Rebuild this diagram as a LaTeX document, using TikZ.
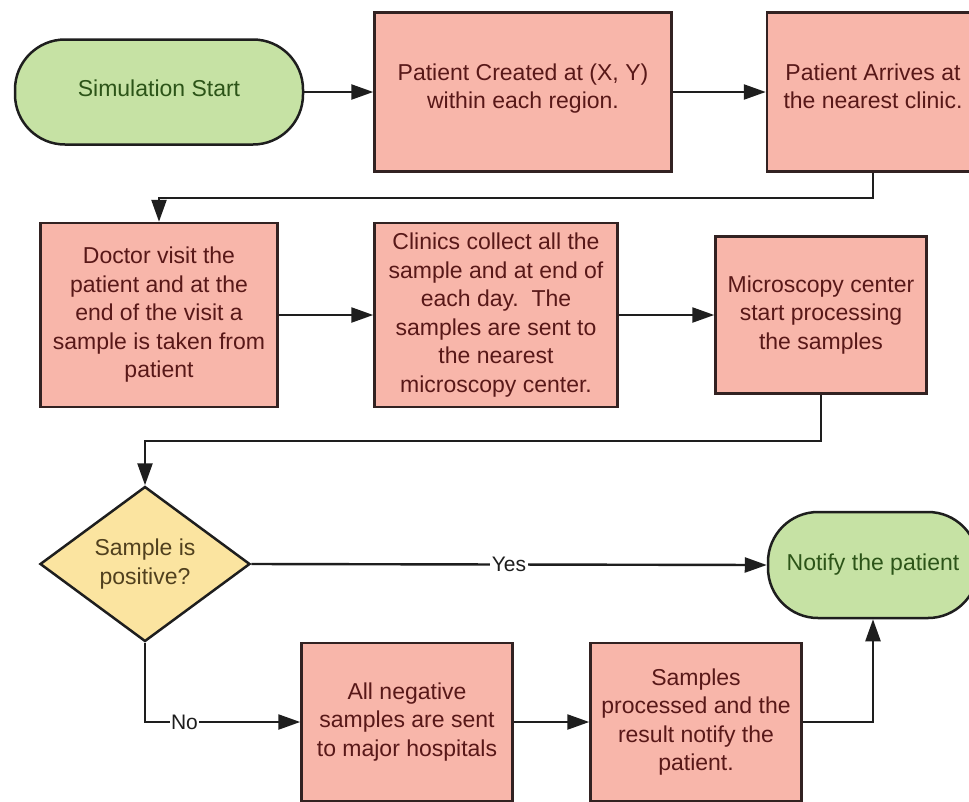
\documentclass[tikz,border=0pt]{standalone}
\usepackage{fontspec}
\setmainfont{Liberation Sans}
\usetikzlibrary{shapes.geometric,arrows.meta}
\definecolor{pinkfill}{RGB}{248,182,170}
\definecolor{greenfill}{RGB}{198,226,164}
\definecolor{yellowfill}{RGB}{251,228,160}
\definecolor{pinktext}{RGB}{88,24,24}
\definecolor{greentext}{RGB}{44,84,24}
\definecolor{yellowtext}{RGB}{80,64,30}
\definecolor{edgecol}{RGB}{30,30,30}
\definecolor{boxborder}{RGB}{50,34,34}
\newcommand{\boxfont}{\fontsize{23}{28.5}\selectfont}
\tikzset{
  base/.style={line width=2.5pt, inner sep=0pt, align=center, font=\boxfont},
  proc/.style={base, draw=boxborder, fill=pinkfill, text=pinktext},
  term/.style={base, draw=edgecol, fill=greenfill, text=greentext, rounded corners=50pt},
  decision/.style={base, draw=edgecol, fill=yellowfill, shape=diamond, minimum width=210pt, minimum height=155pt},
  dectext/.style={font=\boxfont, text=yellowtext, align=center, inner sep=0pt},
  conn/.style={draw=edgecol, line width=2.4pt, -{Triangle[length=22pt,width=15pt]}},
  lbl/.style={fill=white, inner sep=1.5pt, text=edgecol, font=\fontsize{21}{24}\selectfont}
}
\begin{document}
\begin{tikzpicture}[x=1pt,y=-1pt]
\clip (0,0) rectangle (969,801);
\fill[white] (0,0) rectangle (969,801);

\node[term, minimum width=288pt, minimum height=105pt] (start) at (159,92) {Simulation Start\\[-20pt]};
\node[proc, minimum width=297pt, minimum height=159pt] (created) at (523,92) {Patient Created at (X, Y)\\within each region.\\[-16.5pt]};
\node[proc, minimum width=212pt, minimum height=159pt] (arrives) at (873,92) {Patient Arrives at\\the nearest clinic.\\[-16.5pt]};

\node[proc, minimum width=237pt, minimum height=184pt] (doctor) at (159,315) {Doctor visit the\\patient and at the\\end of the visit a\\sample is taken from\\patient};
\node[proc, minimum width=243pt, minimum height=184pt] (clinics) at (496,315) {Clinics collect all the\\sample and at end of\\each day.\ \ The\\samples are sent to\\the nearest\\microscopy center.};
\node[proc, minimum width=211pt, minimum height=157pt] (micro) at (821,315) {Microscopy center\\start processing\\the samples};

\node[decision, label={[dectext]center:Sample is\\positive?}] (dec) at (145,564) {};
\node[term, minimum width=210pt, minimum height=106pt] (notify) at (873,565) {Notify the patient\\[-22pt]};

\node[proc, minimum width=211pt, minimum height=158pt] (neg) at (407,722) {All negative\\samples are sent\\to major hospitals};
\node[proc, minimum width=211pt, minimum height=158pt] (proc2) at (696,722) {Samples\\processed and the\\result notify the\\patient.};

\draw[conn] (start) -- (created);
\draw[conn] (created) -- (arrives);
\draw[conn] (arrives.south) -- ++(0,25) -| (doctor.north);
\draw[conn] (doctor) -- (clinics);
\draw[conn] (clinics) -- (micro);
\draw[conn] (micro.south) -- ++(0,46) -| (dec.north);
\draw[conn] (dec.east) -- node[lbl]{Yes} (notify.west);
\draw[conn] (dec.south) |- node[lbl, pos=0.627]{No} (neg.west);
\draw[conn] (neg) -- (proc2);
\draw[conn] (proc2.east) -| (notify.south);
\end{tikzpicture}
\end{document}
